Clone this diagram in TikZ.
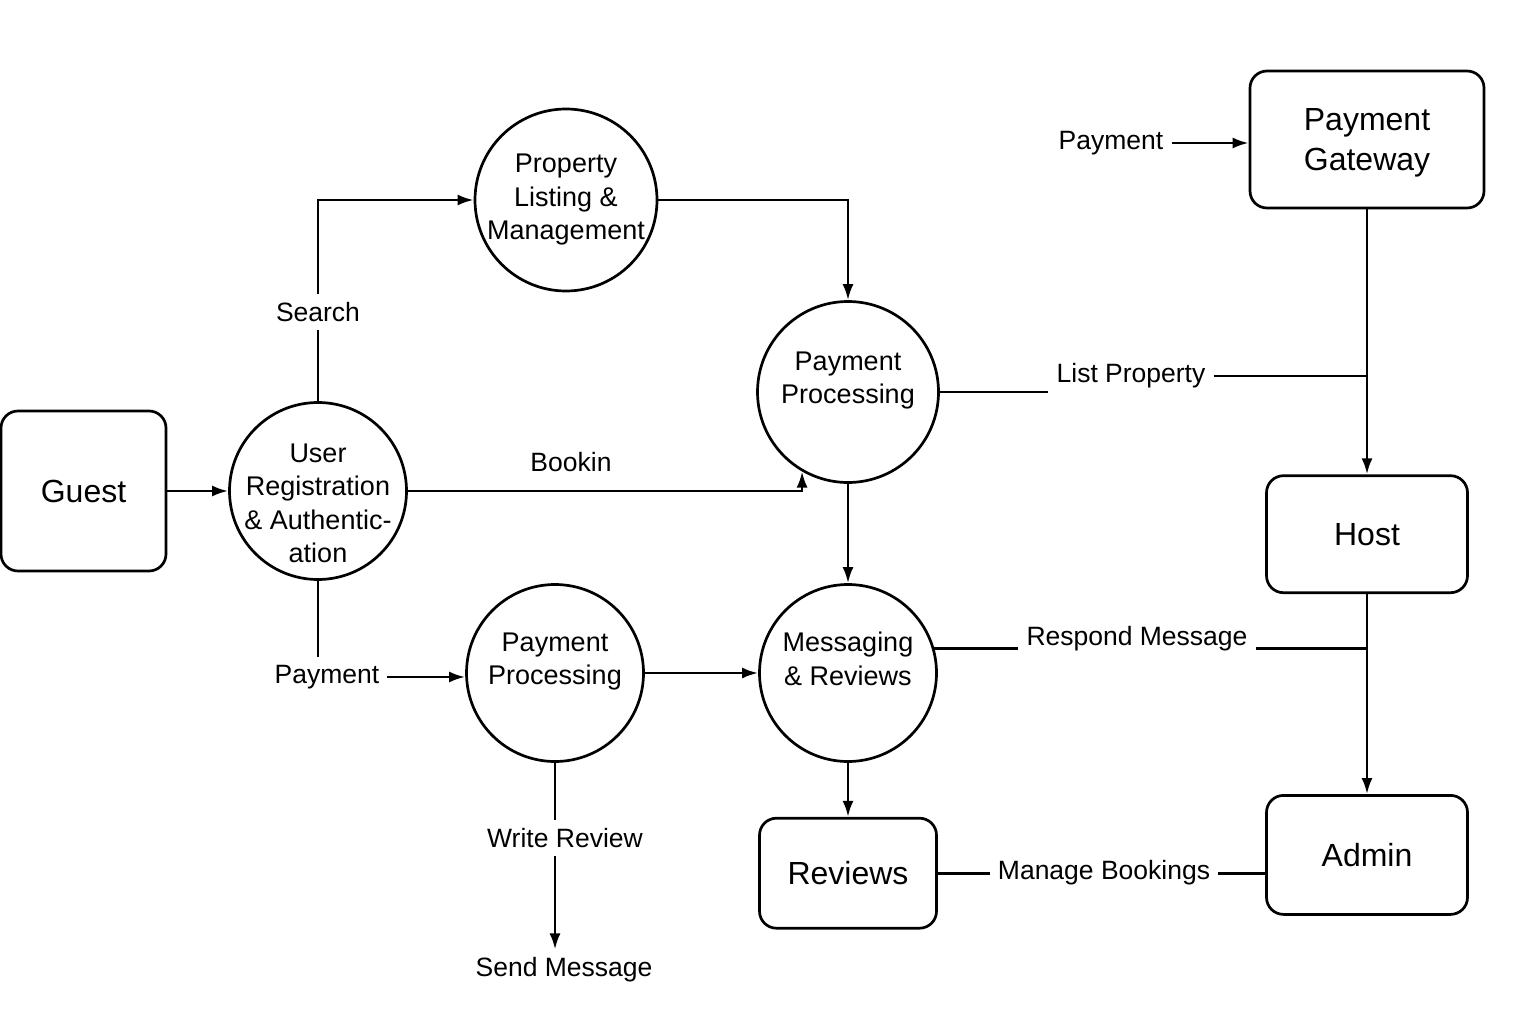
\documentclass[tikz,border=0pt]{standalone}
\usepackage{fontspec}
\setmainfont{Liberation Sans}
\usetikzlibrary{arrows.meta,positioning}
\tikzset{>={Latex[length=16pt,width=11pt]}}
\tikzset{dfd-line/.style={line width=2.6pt}}
\tikzset{dfd-entity/.style={draw, line width=2.7pt, rounded corners=17pt, inner sep=0, align=center, font=\fontsize{32}{40}\selectfont}}
\tikzset{dfd-process/.style={draw, circle, line width=2.7pt, inner sep=0, minimum size=177pt, align=center, font=\fontsize{27}{33.5}\selectfont}}
\tikzset{dfd-raised/.style={text depth=29pt}}
\tikzset{dfd-label/.style={inner sep=8pt, font=\fontsize{26.5}{30}\selectfont}}

\begin{document}
\begin{tikzpicture}[x=1pt, y=-1pt]
            \useasboundingbox (0,0) rectangle (1536,1024);

            % external entities
            \node[dfd-entity, minimum width=165pt, minimum height=160pt] (guest) at (83.5,491) {Guest};
            \node[dfd-entity, minimum width=234pt, minimum height=137pt, text depth=0pt] (gw) at (1367,139.5) {Payment\\Gateway};
            \node[dfd-entity, minimum width=201pt, minimum height=117pt, below=265pt of gw] (host) {Host};
            \node[dfd-entity, minimum width=201pt, minimum height=119pt, below=200pt of host] (admin) {Admin};

            % processes
            \node[dfd-process, inner sep=-16pt] (user) at (318,491) {\rule{0pt}{43pt}User\\Registration\\\& Authentic-\\ation};
            \node[dfd-process, minimum size=182pt] (pl) at (566,200) {Property\\Listing \&\\Management};
            \node[dfd-process, dfd-raised, minimum size=181pt] (pp1) at (848,392) {Payment\\Processing};
            \node[dfd-process, dfd-raised] (pp2) at (555,673) {Payment\\Processing};
            \node[dfd-process, dfd-raised] (mr) at (848,673) {Messaging\\\& Reviews};
            \node[dfd-entity, minimum width=177pt, minimum height=110pt, below=54pt of mr] (rev) {Reviews};

            % flow labels
            \node[dfd-label] (search) at (318,312) {Search};
            \node[dfd-label] (bookin) at (571,462) {Bookin};
            \node[dfd-label] (lp) at (1131,376) {List Property};
            \node[dfd-label] (pgl) at (1111,143) {Payment};
            \node[dfd-label] (rm) at (1137,639) {Respond Message};
            \node[dfd-label] (paylbl) at (327,677) {Payment};
            \node[dfd-label] (wr) at (565,838) {Write Review};
            \node[dfd-label] (sm) at (564,970) {Send Message};
            \node[dfd-label] (mb) at (1104,873) {Manage Bookings};

            % flows
            \draw[->, dfd-line] (guest.east) -- (user.west);
            \draw[dfd-line] (user.north) -- (search);
            \draw[->, dfd-line] (search) |- (pl.west);
            \draw[->, dfd-line] (pl.east) -| (pp1.north);
            \draw[->, dfd-line] (user.east) -| (pp1.-120);
            \draw[dfd-line] (pp1.east) -- (lp.west |- pp1.east);
            \draw[dfd-line] (lp.east) -- (lp.east -| gw.south);
            \draw[->, dfd-line] (pgl) -- (pgl -| gw.west);
            \draw[->, dfd-line] (gw) -- (host);
            \draw[->, dfd-line] (host) -- (admin);
            \draw[->, dfd-line] (pp1) -- (mr);
            \draw[dfd-line] (mr.16) -- (mr.16 -| rm.west);
            \draw[dfd-line] (rm.east |- mr.16) -- (host.south |- mr.16);
            \draw[dfd-line] (user.south) -- (user.south |- paylbl.north);
            \draw[->, dfd-line] (paylbl.east) -- (paylbl.east -| pp2.west);
            \draw[->, dfd-line] (pp2) -- (mr);
            \draw[dfd-line] (pp2.south) -- (pp2.south |- wr.north);
            \draw[->, dfd-line] (pp2.south |- wr.south) -- (pp2.south |- sm.north);
            \draw[->, dfd-line] (mr) -- (rev);
            \draw[dfd-line] (rev.east) -- (mb.west |- rev.east);
            \draw[dfd-line] (mb.east |- rev.east) -- (admin.west |- rev.east);

        \end{tikzpicture}
\end{document}
